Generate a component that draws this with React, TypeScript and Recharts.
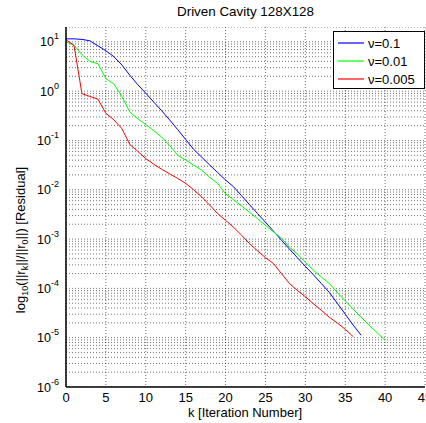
import { LineChart, Line, XAxis, YAxis, CartesianGrid, ReferenceLine, Legend } from 'recharts'

// iteration index k
const iterations = [
  0, 1, 2, 3, 4, 5, 6, 7, 8, 9, 10, 11, 12, 13, 14, 15, 16, 17, 18, 19, 20,
  21, 22, 23, 24, 25, 26, 27, 28, 29, 30, 31, 32, 33, 34, 35, 36, 37, 38, 39, 40,
]

// residual ||r_k||/||r_0||
const residualNu01 = [
  11.5, 11.5, 11.2, 10.5, 8.3, 6.6, 5.0, 3.4, 2.1, 1.35, 0.91,
  0.6, 0.4, 0.26, 0.166, 0.105, 0.066, 0.046, 0.032, 0.0224, 0.0158,
  0.0115, 0.0076, 0.005, 0.0033, 0.0022, 0.00145, 0.00095, 0.00063, 0.00042, 0.00028,
  0.00019, 0.000126, 8.3e-5, 5.0e-5, 3.0e-5, 1.8e-5, 1.12e-5,
]
const residualNu001 = [
  10.0, 8.5, 5.5, 4.0, 3.6, 1.8, 1.4, 0.78, 0.38, 0.275, 0.21,
  0.158, 0.117, 0.079, 0.05, 0.04, 0.0316, 0.0251, 0.018, 0.0135, 0.0083,
  0.0063, 0.0047, 0.0035, 0.0026, 0.0019, 0.0014, 0.00105, 0.00069, 0.0005, 0.00034,
  0.000234, 0.00017, 0.000126, 8.3e-5, 5.6e-5, 3.8e-5, 2.6e-5, 1.8e-5, 1.26e-5, 8.9e-6,
]
const residualNu0005 = [
  11.0, 8.5, 0.89, 0.78, 0.69, 0.355, 0.263, 0.174, 0.083, 0.06, 0.043,
  0.033, 0.026, 0.021, 0.017, 0.0135, 0.01, 0.0072, 0.0049, 0.0033, 0.0024,
  0.00174, 0.0012, 0.00081, 0.00058, 0.00042, 0.00032, 0.0002, 0.000126, 9.1e-5, 6.8e-5,
  4.9e-5, 3.6e-5, 2.6e-5, 2.0e-5, 1.48e-5, 1.05e-5,
]

const seriesNames = ['ν=0.1', 'ν=0.01', 'ν=0.005']
const seriesColors = ['#0000ff', '#00ff00', '#ff0000']

const xTicks = [0, 5, 10, 15, 20, 25, 30, 35, 40, 45]
const yTicks = [1e-6, 1e-5, 1e-4, 1e-3, 1e-2, 1e-1, 1e0, 1e1]
const yMax = 20

const data = iterations.map((k, i) => ({
  k,
  nu01: residualNu01[i],
  nu001: residualNu001[i],
  nu0005: residualNu0005[i],
}))

// minor log grid lines (2..9 x each decade)
const minorValues: number[] = []
yTicks.forEach((d) => {
  for (let m = 2; m <= 9; m++) {
    if (m * d <= yMax) minorValues.push(m * d)
  }
})

const FONT = '"Liberation Sans", Arial, Helvetica, sans-serif'

const PowerTick = ({ x, y, payload }: any) => {
  const exp = Math.round(Math.log10(payload.value))
  return (
    <text x={x} y={y} dy={4.5} textAnchor="end" fontSize={12.5} fill="#000">
      10
      <tspan dy={-7} fontSize={9}>{exp}</tspan>
    </text>
  )
}

const YLabel = () => (
  <text transform="translate(25, 240) rotate(-90)" textAnchor="middle" fontSize={13} fill="#000">
    log<tspan dy={3} fontSize={9}>10</tspan>
    <tspan dy={-3}>(||r</tspan><tspan dy={3} fontSize={9}>k</tspan>
    <tspan dy={-3}>||/||r</tspan><tspan dy={3} fontSize={9}>0</tspan>
    <tspan dy={-3}>||) [Residual]</tspan>
  </text>
)

const XLabel = () => (
  <text x={245} y={417} textAnchor="middle" fontSize={13} fill="#000">
    k [Iteration Number]
  </text>
)

const renderLegend = () => (
  <div
    style={{
      border: '1px solid #000',
      background: '#fff',
      width: 92,
      height: 58,
      boxSizing: 'border-box',
      padding: '2px 0 0 4px',
      fontFamily: FONT,
    }}
  >
    {seriesNames.map((name, i) => (
      <div key={name} style={{ display: 'flex', alignItems: 'center', height: 18 }}>
        <svg width={30} height={6} style={{ display: 'block' }}>
          <line x1={0} y1={3} x2={26} y2={3} stroke={seriesColors[i]} strokeWidth={1.2} />
        </svg>
        <span style={{ fontSize: 13, color: '#000', lineHeight: '13px' }}>{name}</span>
      </div>
    ))}
  </div>
)

export default function App() {
  return (
    <div style={{ position: 'relative', width: 426, height: 423, fontFamily: FONT, background: '#fff' }}>
      <style>{`body{margin:0}`}</style>
      <div
        style={{
          position: 'absolute',
          left: 66,
          width: 359,
          top: 4,
          textAlign: 'center',
          fontSize: 13.4,
          color: '#000',
        }}
      >
        Driven Cavity 128X128
      </div>
      <LineChart width={426} height={423} data={data} margin={{ top: 27, right: 1, left: 0, bottom: 0 }}>
        <CartesianGrid
          horizontal={false}
          stroke="#000"
          strokeOpacity={0.55}
          strokeDasharray="1 2"
        />
        {yTicks.concat(minorValues).map((v) => (
          <ReferenceLine
            key={v}
            y={v}
            stroke="#000"
            strokeOpacity={0.55}
            strokeDasharray="1 2"
            ifOverflow="hidden"
          />
        ))}
        <XAxis
          dataKey="k"
          type="number"
          domain={[0, 45]}
          ticks={xTicks}
          interval={0}
          height={36}
          tickSize={0}
          tickMargin={6}
          tick={{ fill: '#000', fontSize: 13 }}
          axisLine={{ stroke: '#000', strokeWidth: 1.5 }}
          label={<XLabel />}
        />
        <XAxis
          xAxisId="top"
          orientation="top"
          dataKey="k"
          type="number"
          domain={[0, 45]}
          ticks={xTicks}
          interval={0}
          height={0}
          mirror
          tickSize={4}
          tick={() => <g />}
          axisLine={{ stroke: '#000' }}
          tickLine={{ stroke: '#000' }}
        />
        <YAxis
          scale="log"
          domain={[1e-6, yMax]}
          allowDataOverflow
          ticks={yTicks}
          interval={0}
          width={66}
          tickSize={0}
          tickMargin={7}
          tick={<PowerTick />}
          axisLine={{ stroke: '#000', strokeWidth: 1.5 }}
          label={<YLabel />}
        />
        <YAxis
          yAxisId="right"
          orientation="right"
          scale="log"
          domain={[1e-6, yMax]}
          allowDataOverflow
          ticks={yTicks}
          interval={0}
          width={0}
          mirror
          tickSize={4}
          tick={() => <g />}
          axisLine={{ stroke: '#000' }}
          tickLine={{ stroke: '#000' }}
        />
        <Legend
          layout="vertical"
          align="center"
          verticalAlign="middle"
          wrapperStyle={{ position: 'absolute', left: 333, top: 31, width: 92 }}
          content={renderLegend}
        />
        <Line dataKey="nu01" name={seriesNames[0]} stroke={seriesColors[0]} strokeWidth={1} dot={false} isAnimationActive={false} />
        <Line dataKey="nu001" name={seriesNames[1]} stroke={seriesColors[1]} strokeWidth={1} dot={false} isAnimationActive={false} />
        <Line dataKey="nu0005" name={seriesNames[2]} stroke={seriesColors[2]} strokeWidth={1} dot={false} isAnimationActive={false} />
      </LineChart>
    </div>
  )
}
